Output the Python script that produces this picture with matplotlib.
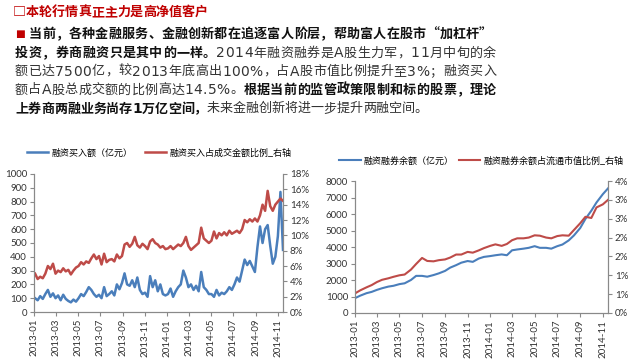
import numpy as np
import pandas as pd
import matplotlib
matplotlib.use("Agg")
import matplotlib.pyplot as plt

W, H = 640, 363
BLUE = "#4A7EBB"
RED = "#BE4B48"
DARK_RED = "#C00000"
AXIS_GRAY = "#898989"

plt.rcParams["font.family"] = ["Lato", "Noto Sans CJK SC", "DejaVu Sans"]

# ---- left chart: weekly, 2013-01-04 .. 2014-11-14
buy_start = "2013-01-04"
buy_amount = [
    100, 85, 115, 95,
    130, 160, 110, 135,
    100, 120, 85, 125, 95,
    80, 70, 90, 75,
    100, 130, 115, 145, 180,
    160, 130, 110, 125,
    100, 180, 115, 130,
    150, 120, 200, 165, 210,
    280, 200, 190, 230,
    180, 250, 160, 130,
    140, 110, 260, 180, 230,
    150, 200, 130, 120,
    130, 170, 110, 150, 180,
    200, 300, 250, 180,
    200, 160, 190, 150,
    290, 180, 160, 130,
    130, 110, 160, 120, 140,
    130, 150, 180, 160,
    200, 250, 220, 300,
    380, 340, 370, 330, 290,
    470, 620, 500, 600,
    630, 480, 350, 400, 550,
    870, 450,
]
buy_ratio = [
    5.0, 4.3, 4.6, 4.4,
    5.0, 6.0, 5.6, 6.3,
    5.0, 5.4, 5.2, 5.7, 5.3,
    5.5, 4.9, 5.4, 5.8,
    6.0, 6.5, 6.2, 6.6, 6.4,
    7.0, 7.5, 6.9, 7.3,
    6.2, 7.6, 6.5, 6.8,
    6.9, 6.6, 7.5, 7.0, 7.3,
    8.8, 9.0, 8.5, 8.9,
    9.8, 8.7, 8.4, 8.9,
    8.6, 8.2, 9.2, 9.5, 9.0,
    8.8, 8.4, 8.6, 8.2,
    8.3, 8.6, 8.2, 8.5, 8.8,
    8.6, 9.0, 9.8, 8.6,
    8.1, 8.4, 8.7, 9.0,
    11.0, 9.6, 9.3, 9.0,
    9.3, 10.5, 9.6, 10.3, 10.0,
    10.4, 10.0, 10.6, 10.2,
    10.4, 10.6, 10.3, 10.8,
    12.0, 11.7, 12.1, 11.8, 12.2,
    11.8, 12.6, 14.0, 13.2,
    15.8, 13.8, 13.2, 14.0, 14.4,
    14.8, 14.5,
]
buy_labels = ["融资买入额（亿元）", "融资买入占成交金额比例_右轴"]

# ---- right chart: twice a month, 2013-01-01 .. 2014-11-15
bal_balance = [
    900, 1050, 1200, 1280, 1400, 1500, 1600, 1650, 1750, 1800, 2000, 2250,
    2250, 2200, 2300, 2400, 2550, 2750, 2900, 3050, 3150, 3100, 3300, 3400,
    3450, 3500, 3550, 3500, 3800, 3850, 3900, 3950, 4050, 3950, 3950, 3900,
    4050, 4150, 4400, 4700, 5150, 5700, 6200, 6700, 7200, 7550,
]
bal_ratio = [
    0.52, 0.60, 0.68, 0.74, 0.82, 0.88, 0.92, 0.96, 1.00, 1.02, 1.15, 1.30,
    1.46, 1.38, 1.37, 1.40, 1.42, 1.47, 1.55, 1.55, 1.62, 1.60, 1.66, 1.72,
    1.78, 1.82, 1.78, 1.83, 1.93, 1.98, 1.98, 2.00, 2.06, 2.05, 2.00, 1.98,
    2.04, 2.06, 2.05, 2.20, 2.38, 2.55, 2.52, 2.80, 2.88, 3.00,
]
bal_labels = ["融资融券余额（亿元）", "融资融券余额占流通市值比例_右轴"]
bal_pct_ticks = [0, 0.5, 1.0, 1.5, 2.0, 2.5, 3.0, 3.5]
bal_pct_labels = ["0%", "1%", "1%", "2%", "2%", "3%", "3%", "4%"]

title = "□本轮行情真正主力是高净值客户"
first_line = "当前，各种金融服务、金融创新都在追逐富人阶层，帮助富人在股市“加杠杆”"
body = [
    [("投资，券商融资只是其中的一样。", True), ("2014年融资融券是A股生力军，11月中旬的余", False)],
    [("额已达7500亿，较2013年底高出100%，占A股市值比例提升至3%；融资买入", False)],
    [("额占A股总成交额的比例高达14.5%。", False), ("根据当前的监管政策限制和标的股票，理论", True)],
    [("上券商两融业务尚存1万亿空间，", True), ("未来金融创新将进一步提升两融空间。", False)],
]

buy_dates = pd.date_range(buy_start, periods=len(buy_amount), freq="7D")
bal_dates = pd.date_range("2013-01-01", periods=len(bal_balance), freq="SMS")


def px_rect(left, top, right, bottom):
    return [left / W, 1 - bottom / H, (right - left) / W, (bottom - top) / H]


def style_axes(ax, axr, xmax):
    ax.set_xlim(pd.Timestamp("2013-01-01"), pd.Timestamp(xmax))
    ticks = pd.date_range("2013-01-01", "2014-11-01", freq="2MS")
    ax.set_xticks(ticks)
    ax.set_xticklabels([d.strftime("%Y-%m") for d in ticks], rotation=90)
    for a in (ax, axr):
        a.spines["top"].set_visible(False)
        for s in ("left", "right", "bottom"):
            a.spines[s].set_color(AXIS_GRAY)
            a.spines[s].set_linewidth(0.8)
        a.tick_params(direction="out", length=3, width=0.8, color=AXIS_GRAY,
                      labelsize=7, labelcolor="#333333", pad=2)


fig = plt.figure(figsize=(W / 100, H / 100), dpi=100)

# left chart
ax1 = fig.add_axes(px_rect(34, 174, 283, 312))
ax1r = ax1.twinx()
l1, = ax1.plot(buy_dates, buy_amount, color=BLUE, lw=1.8)
l2, = ax1r.plot(buy_dates, buy_ratio, color=RED, lw=1.8)
ax1.set_ylim(0, 1000)
ax1.set_yticks(np.arange(0, 1001, 100))
ax1r.set_ylim(0, 18)
ax1r.set_yticks(np.arange(0, 19, 2))
ax1r.set_yticklabels([f"{v}%" for v in range(0, 19, 2)])
style_axes(ax1, ax1r, "2014-11-14")
fig.legend([l1, l2], buy_labels, loc="center", bbox_to_anchor=(159 / W, 1 - 153 / H),
           ncol=2, frameon=False, handlelength=2.4, handletextpad=0.3,
           columnspacing=1.4, prop={"family": ["Noto Sans CJK SC"], "size": 6.5})

# right chart
ax2 = fig.add_axes(px_rect(355, 181, 608, 313))
ax2r = ax2.twinx()
l3, = ax2.plot(bal_dates, bal_balance, color=BLUE, lw=1.5)
l4, = ax2r.plot(bal_dates, bal_ratio, color=RED, lw=1.5)
ax2.set_ylim(0, 8000)
ax2.set_yticks(np.arange(0, 8001, 1000))
ax2r.set_ylim(0, 3.5)
ax2r.set_yticks(bal_pct_ticks)
ax2r.set_yticklabels(bal_pct_labels)
style_axes(ax2, ax2r, "2014-11-15")
fig.legend([l3, l4], bal_labels, loc="center", bbox_to_anchor=(481 / W, 1 - 161 / H),
           ncol=2, frameon=False, handlelength=2.4, handletextpad=0.3,
           columnspacing=0.6, prop={"family": ["Noto Sans CJK SC"], "size": 6.5})

# text block, laid out character by character so lines can be justified
renderer = fig.canvas.get_renderer()
CJK_SIZE = 9.4
LAT_SIZE = 10.0


def put_line(x0, y, segments, x1=None):
    items = []
    for text, bold, color in segments:
        for ch in text:
            latin = ch.isascii()
            t = fig.text(0, 1 - y / H, ch, color=color,
                         fontsize=LAT_SIZE if latin else CJK_SIZE,
                         family=["DejaVu Sans"] if latin else ["Noto Sans CJK SC"],
                         fontweight="bold" if bold else "normal",
                         va="center", ha="left")
            items.append((t, t.get_window_extent(renderer).width))
    total = sum(w for _, w in items)
    gap = (x1 - x0 - total) / (len(items) - 1) if x1 else 0
    x = x0
    for t, w in items:
        t.set_x(x / W)
        x += w + gap


put_line(13, 12, [(title, True, DARK_RED)])
fig.text(15 / W, 1 - 34 / H, "■", fontsize=7.5, color=DARK_RED, family=["DejaVu Sans"],
         va="center", ha="left")
put_line(29, 34, [(first_line, True, "#111111")], x1=492)
for i, line in enumerate(body):
    segs = [(t, b, "#111111" if b else "#333333") for t, b in line]
    put_line(15, 53 + i * 18.5, segs, x1=None if i == len(body) - 1 else 496)

fig.savefig("out.png", dpi=100)
